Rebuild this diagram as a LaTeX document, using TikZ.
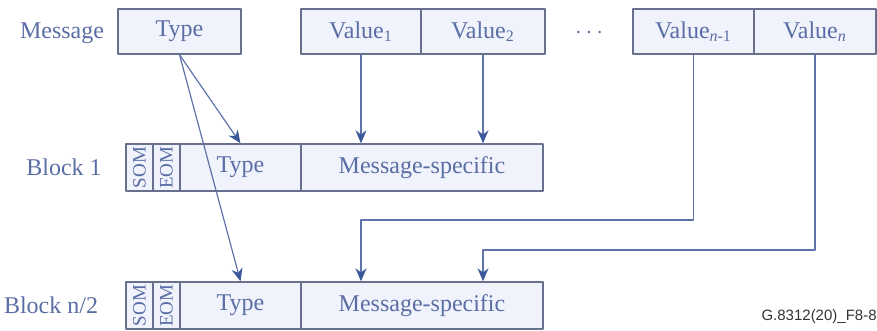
\documentclass[tikz,border=0pt]{standalone}
\usepackage{fontspec}
\setmainfont{Liberation Serif}
\newfontfamily\tagfont{Liberation Sans}
\usetikzlibrary{arrows.meta}
\definecolor{boxline}{RGB}{104,112,142}
\definecolor{boxfill}{RGB}{240,243,251}
\definecolor{labtxt}{RGB}{90,110,165}
\definecolor{linkcol}{RGB}{96,114,170}
\definecolor{tipcol}{RGB}{58,88,154}

\begin{document}
\begin{tikzpicture}[line join=round,x=0.5pt,y=-0.5pt,
  cell/.style={draw=boxline,fill=boxfill,line width=0.7pt,inner sep=0pt,text=labtxt,font=\fontsize{12}{14}\selectfont},
  flag/.style={cell,rotate=90,minimum width=23.5pt,minimum height=13.5pt,font=\fontsize{9.5}{10}\selectfont},
  rowlab/.style={text=labtxt,font=\fontsize{12}{14}\selectfont},
  link/.style={draw=linkcol,line width=0.6pt,-{Stealth[length=6.5pt,width=5.5pt,color=tipcol]}}]
  \useasboundingbox (0,0) rectangle (877,331);
  \node[rowlab] (msglab) at (62,33) {Message};
  \node[cell,minimum width=61.5pt,minimum height=22.5pt] (mtype) at (179.5,31.5) {Type};
  \node[cell,minimum width=60pt,minimum height=22.5pt] (v1) at (361,31.5) {Value\textsubscript{1}};
  \node[cell,minimum width=62pt,minimum height=22.5pt] (v2) at (483,31.5) {Value\textsubscript{2}};
  \node[rowlab] (dots) at (589,33) {$\cdots$};
  \node[cell,minimum width=60.5pt,minimum height=22.5pt] (vm) at (693.5,31.5) {Value\textsubscript{\textit{n}-1}};
  \node[cell,minimum width=61pt,minimum height=22.5pt] (vn) at (815,31.5) {Value\textsubscript{\textit{n}}};
  \foreach \r/\y in {b1/167.5,bn/305.5} {
    \node[flag] (\r som) at (139.5,\y) {SOM};
    \node[flag] (\r eom) at (166.5,\y) {EOM};
    \node[cell,minimum width=60.5pt,minimum height=23.5pt] (\r type) at (240.5,\y) {Type};
    \node[cell,minimum width=121pt,minimum height=23.5pt] (\r msg) at (422,\y) {Message-specific};
  }
  \node[rowlab] (b1lab) at (64,167) {Block 1};
  \node[rowlab] (bnlab) at (51,305) {Block n/2};
  \coordinate (lanem) at (0,220);
  \coordinate (lanen) at (0,250);
  \draw[link] (mtype.south) -- (b1type.north);
  \draw[link] (mtype.south) -- (bntype.north);
  \draw[link] (v1.south) -- (v1.south |- b1msg.north);
  \draw[link] (v2.south) -- (v2.south |- b1msg.north);
  \draw[link] (vm.south) |- (v1.south |- lanem) -- (v1.south |- bnmsg.north);
  \draw[link] (vn.south) |- (v2.south |- lanen) -- (v2.south |- bnmsg.north);
  \node[font=\tagfont\fontsize{7.5}{9}\selectfont,text=black!80,anchor=east,inner sep=0pt] (figtag) at (877,317) {G.8312(20)\_F8-8};
\end{tikzpicture}
\end{document}
